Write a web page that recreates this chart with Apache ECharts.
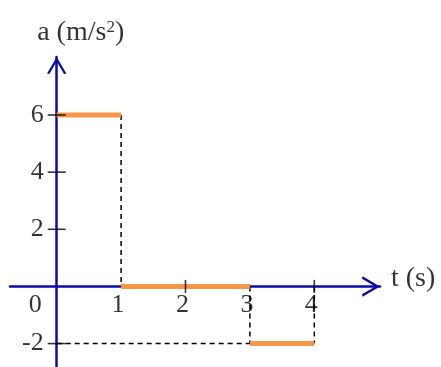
<!DOCTYPE html>
<html>
<head>
<meta charset="utf-8">
<script src="https://cdn.jsdelivr.net/npm/echarts@6/dist/echarts.min.js"></script>
<style>
  html, body { margin: 0; padding: 0; background: #fff; }
  #chart { width: 441px; height: 367px; }
</style>
</head>
<body>
<div id="chart"></div>
<script>
// Piecewise-constant acceleration: each step holds a from stepStart to stepEnd
const stepStart = [0, 1, 3];
const stepEnd = [1, 3, 4];
const stepAccel = [6, 0, -2];

// Axis tick values
const tTicks = [0, 1, 2, 3, 4];
const aTicks = [-2, 2, 4, 6];

// Axis extents (the axes run past the origin on the negative side)
const tRange = [-0.725, 5.02];
const aRange = [-2.82, 8.03];

// Axis titles
const tTitle = 't (s)';
const aTitle = ['a (m/s', '2', ')'];

const SERIF = "'Liberation Serif', 'Times New Roman', serif";
const AXIS_BLUE = '#0c0ca4';
const ORANGE = '#f79646';
// open chevron arrow head, pointing up before the axis rotates it
const CHEVRON = 'path://M0,17 L10,0 L20,17 L17.6,17.6 L10,4.6 L2.4,17.6 Z';

const labelFont = { fontFamily: SERIF, fontSize: 26, color: '#000' };

// orange step segments
const stepSeries = stepAccel.map((a, i) => ({
  type: 'line',
  data: [[stepStart[i], a], [stepEnd[i], a]],
  showSymbol: false,
  lineStyle: { color: ORANGE, width: 5, cap: 'butt' },
  z: 4,
  silent: true
}));

// dashed guides: the drop at each jump, and the projections of the negative step
const guides = [];
const last = stepAccel.length - 1;
guides.push([[stepEnd[0], stepAccel[0]], [stepEnd[0], stepAccel[1]]]);
guides.push([[stepStart[last], stepAccel[1]], [stepStart[last], stepAccel[last]]]);
guides.push([[stepEnd[last], 0], [stepEnd[last], stepAccel[last]]]);
guides.push([[0, stepAccel[last]], [stepStart[last], stepAccel[last]]]);
const guideSeries = guides.map(seg => ({
  type: 'line',
  data: seg,
  showSymbol: false,
  lineStyle: { color: '#000', width: 1.5, type: [5, 4] },
  z: 3,
  silent: true
}));

// tick marks crossing the axes
const aTickMarks = {
  type: 'scatter',
  data: aTicks.map(v => [0, v]),
  symbol: 'rect',
  symbolSize: [18, 1.6],
  itemStyle: { color: '#000' },
  z: 5,
  silent: true
};
const tTickMarks = {
  type: 'scatter',
  data: tTicks.filter(v => v === 2 || v === 4).map(v => [v, 0]),
  symbol: 'rect',
  symbolSize: [1.6, 13],
  itemStyle: { color: '#000' },
  z: 5,
  silent: true
};

// tick labels placed beside the axes through the coordinate system
const aTickLabels = {
  type: 'scatter',
  data: aTicks.map(v => [0, v]),
  symbolSize: 0,
  z: 6,
  silent: true,
  label: {
    show: true,
    position: 'left',
    distance: 13,
    formatter: p => String(p.value[1]),
    ...labelFont
  }
};
const tTickLabels = {
  type: 'scatter',
  data: tTicks.map(v => ({
    value: [v, 0],
    label: { offset: v === 0 ? [-21.5, 0] : [-3, 0] }
  })),
  symbolSize: 0,
  z: 6,
  silent: true,
  label: {
    show: true,
    position: 'bottom',
    distance: 6,
    formatter: p => String(p.value[0]),
    ...labelFont
  }
};

// axis titles at the arrow ends
const axisTitles = {
  type: 'scatter',
  symbolSize: 0,
  z: 6,
  silent: true,
  data: [
    {
      value: [tRange[1], 0],
      label: {
        show: true, position: 'right', distance: 11, offset: [0, -8],
        formatter: tTitle, fontFamily: SERIF, fontSize: 28, color: '#000'
      }
    },
    {
      value: [0, aRange[1]],
      label: {
        show: true, position: 'top', distance: 10, offset: [24, 0],
        formatter: '{n|' + aTitle[0] + '}{s|' + aTitle[1] + '}{n|' + aTitle[2] + '}',
        rich: {
          n: { fontFamily: SERIF, fontSize: 28, color: '#000' },
          s: { fontFamily: SERIF, fontSize: 17, color: '#000', verticalAlign: 'top' }
        }
      }
    }
  ]
};

const chart = echarts.init(document.getElementById('chart'), null, { renderer: 'canvas' });
chart.setOption({
  animation: false,
  backgroundColor: '#fff',
  grid: {
    left: 10, right: 61, top: 57, bottom: 0,
    containLabel: false,
    outerBoundsMode: 'none'
  },
  xAxis: {
    type: 'value',
    min: tRange[0],
    max: tRange[1],
    axisLine: {
      onZero: true,
      symbol: ['none', CHEVRON],
      symbolSize: [24, 18],
      symbolOffset: [0, -9],
      lineStyle: { color: AXIS_BLUE, width: 2.5 }
    },
    axisTick: { show: false },
    splitLine: { show: false },
    axisLabel: { show: false }
  },
  yAxis: {
    type: 'value',
    min: aRange[0],
    max: aRange[1],
    axisLine: {
      onZero: true,
      symbol: ['none', CHEVRON],
      symbolSize: [21, 17],
      symbolOffset: [0, -8.5],
      lineStyle: { color: AXIS_BLUE, width: 2.5 }
    },
    axisTick: { show: false },
    splitLine: { show: false },
    axisLabel: { show: false }
  },
  series: [...guideSeries, ...stepSeries, aTickMarks, tTickMarks, aTickLabels, tTickLabels, axisTitles]
});
</script>
</body>
</html>
